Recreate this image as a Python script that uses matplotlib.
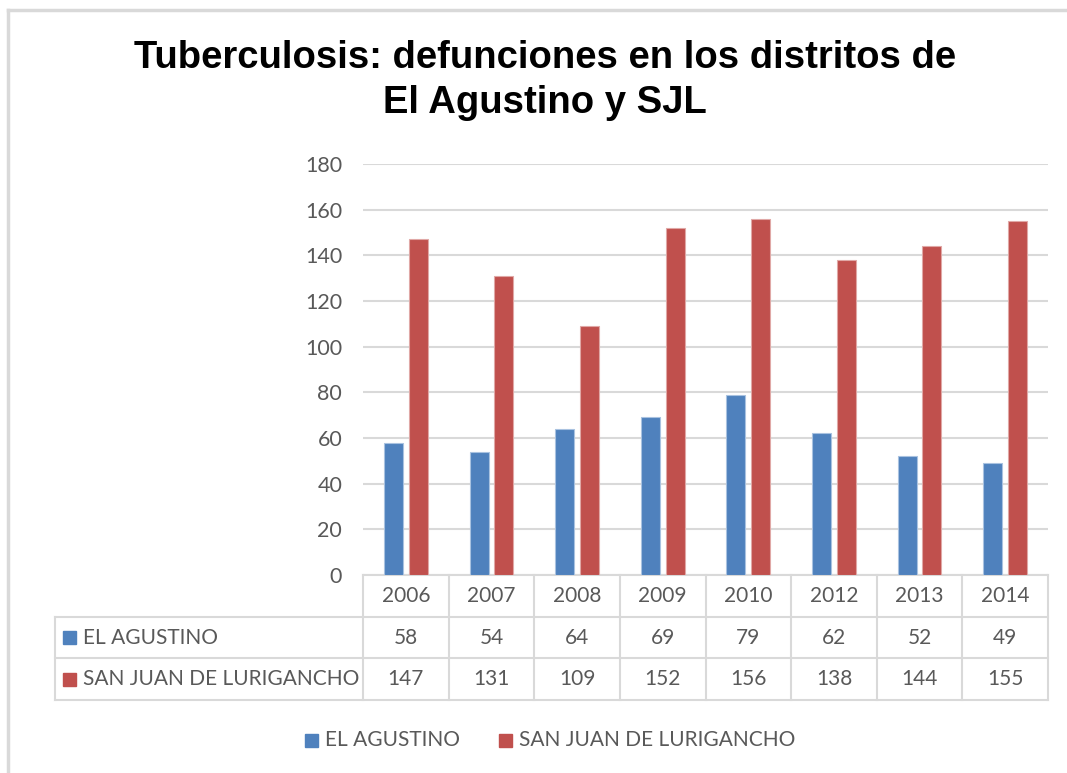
"""
Tuberculosis: defunciones en El Agustino y SJL, con tabla de datos debajo
"""

import matplotlib
matplotlib.use("Agg")
import matplotlib.pyplot as plt
from matplotlib.lines import Line2D
from matplotlib.patches import Rectangle

years = ["2006", "2007", "2008", "2009", "2010", "2012", "2013", "2014"]
el_agustino = [58, 54, 64, 69, 79, 62, 52, 49]
sjl = [147, 131, 109, 152, 156, 138, 144, 155]
series_names = ["EL AGUSTINO", "SAN JUAN DE LURIGANCHO"]
y_ticks = [0, 20, 40, 60, 80, 100, 120, 140, 160, 180]

BLUE = "#4f81bd"
RED = "#c0504d"
GRID = "#d9d9d9"
TXT = "#595959"
W, H = 1067, 773
TXT_FONT = ["Lato", "DejaVu Sans"]


def fx(px):
    return px / W


def fy(py):
    return 1 - py / H


fig = plt.figure(figsize=(W / 100, H / 100), dpi=100)

# marco exterior
fig.add_artist(Line2D([fx(8), 1], [fy(10), fy(10)], color=GRID, lw=2.5))
fig.add_artist(Line2D([fx(8), fx(8)], [fy(10), 0], color=GRID, lw=2.5))

fig.text(fx(545), fy(58), "Tuberculosis: defunciones en los distritos de",
         ha="center", va="center", fontsize=27.5, fontweight="bold",
         family="Liberation Sans")
fig.text(fx(545), fy(103), "El Agustino y SJL",
         ha="center", va="center", fontsize=27.5, fontweight="bold",
         family="Liberation Sans")

left, right, top, bottom = 363, 1048, 164, 575
ax = fig.add_axes([fx(left), fy(bottom), fx(right - left), (bottom - top) / H])

x = list(range(len(years)))
bw = 0.222
off = 0.144
ax.bar([i - off for i in x], el_agustino, bw, color=BLUE,
       edgecolor="#a9c2e0", lw=0.8, zorder=3)
ax.bar([i + off for i in x], sjl, bw, color=RED,
       edgecolor="#e0a8a6", lw=0.8, zorder=3)

ax.set_xlim(-0.5, len(years) - 0.5)
ax.set_ylim(0, 180)
ax.set_yticks(y_ticks)
ax.set_yticklabels([str(t) for t in y_ticks], fontsize=15.5, color=TXT,
                   family=TXT_FONT)
ax.set_xticks([])
ax.tick_params(axis="y", length=0, pad=15)
ax.grid(axis="y", color=GRID, lw=1.5, zorder=0)
for s in ["top", "right", "left"]:
    ax.spines[s].set_visible(False)
ax.spines["bottom"].set_color(GRID)
ax.spines["bottom"].set_linewidth(1.5)

# tabla de datos
col_w = (right - left) / len(years)
rows_y = [575, 617, 658, 700]
tab_left = 55
for ry in rows_y[1:]:
    fig.add_artist(Line2D([fx(tab_left), fx(right)], [fy(ry), fy(ry)],
                          color=GRID, lw=1.5))
fig.add_artist(Line2D([fx(tab_left), fx(tab_left)], [fy(617), fy(700)],
                      color=GRID, lw=1.5))
for k in range(len(years) + 1):
    cx = left + k * col_w
    fig.add_artist(Line2D([fx(cx), fx(cx)], [fy(575), fy(700)],
                          color=GRID, lw=1.5))

for i, yr in enumerate(years):
    cx = left + (i + 0.5) * col_w
    fig.text(fx(cx), fy(596), yr, ha="center", va="center", fontsize=15,
             color=TXT, family=TXT_FONT)
    fig.text(fx(cx), fy(637.5), str(el_agustino[i]), ha="center",
             va="center", fontsize=15, color=TXT, family=TXT_FONT)
    fig.text(fx(cx), fy(679), str(sjl[i]), ha="center", va="center",
             fontsize=15, color=TXT, family=TXT_FONT)

for name, col, ry in zip(series_names, [BLUE, RED], [637.5, 679]):
    fig.add_artist(Rectangle((fx(63), fy(ry + 6.5)), fx(13), 13 / H,
                             color=col))
    fig.text(fx(83), fy(ry), name, ha="left", va="center", fontsize=15,
             color=TXT, family=TXT_FONT)

# leyenda
for name, col, lx in zip(series_names, [BLUE, RED], [305, 499]):
    fig.add_artist(Rectangle((fx(lx), fy(747)), fx(13), 13 / H, color=col))
    fig.text(fx(lx + 20), fy(740), name, ha="left", va="center",
             fontsize=15, color=TXT, family=TXT_FONT)

fig.savefig("out.png", dpi=100)
